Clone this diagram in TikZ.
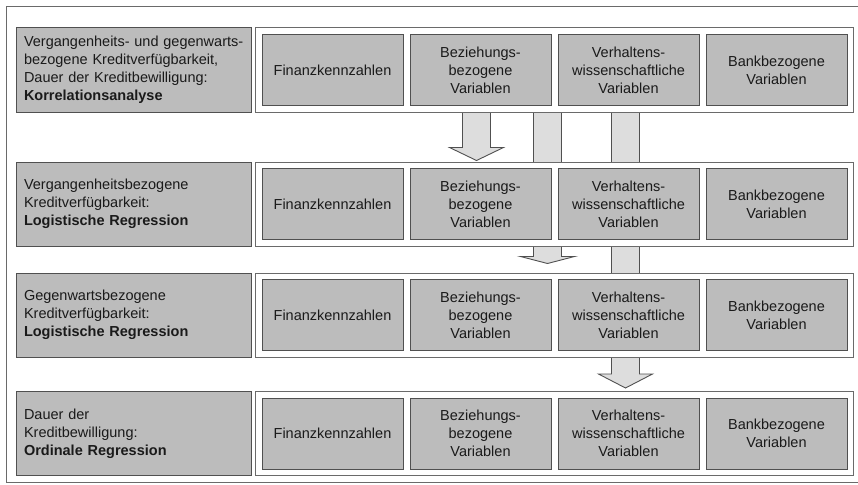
\documentclass[tikz,border=0pt]{standalone}
\usepackage{fontspec}
\setmainfont{Liberation Sans}
\usetikzlibrary{positioning,fit,backgrounds,calc}
\definecolor{boxgray}{HTML}{BCBCBC}
\definecolor{arrowgray}{HTML}{DDDDDD}
\definecolor{edgegray}{HTML}{505050}
\definecolor{framegray}{HTML}{6A6A6A}
\definecolor{textgray}{HTML}{1A1A1A}
\pgfdeclarelayer{arrows}
\pgfsetlayers{arrows,background,main}
% block arrow: column, from node, to node, gap above tip, head length
\newcommand{\blockarrow}[5]{%
  \draw[blk] ($(#1 |- #2.south)+(-14,0)$) -- ($(#1 |- #2.south)+(14,0)$)
    -- ($(#1 |- #3.north)+(14,-#4-#5)$) -- ($(#1 |- #3.north)+(27,-#4-#5)$)
    -- ($(#1 |- #3.north)+(0,-#4)$) -- ($(#1 |- #3.north)+(-27,-#4-#5)$)
    -- ($(#1 |- #3.north)+(-14,-#4-#5)$) -- cycle;}

\begin{document}
\begin{tikzpicture}[x=1pt,y=-1pt,
  node distance=6pt,
  font=\fontsize{14.5}{18}\selectfont,
  lbl/.style={draw=edgegray,fill=boxgray,text=textgray,align=left,
    text width=219pt,inner xsep=8pt,minimum height=84pt,line width=1pt},
  var/.style={draw=edgegray,fill=boxgray,text=textgray,align=center,
    minimum width=141pt,minimum height=71pt,inner sep=2pt,line width=1pt},
  grp/.style={draw=framegray,fill=white,inner sep=6pt,line width=1pt},
  blk/.style={draw=edgegray,fill=arrowgray,line width=.9pt},
  frame/.style={draw=framegray,line width=1pt}
]
\useasboundingbox (0,0) rectangle (858,484);
\draw[frame] (858,7) -- (6,7) -- (6,482) -- (858,482);

\node[lbl] (lab1) at (133.5,70) {\mbox{Vergangenheits- und gegenwarts-}\\bezogene Kreditverfügbarkeit,\\Dauer der Kreditbewilligung:\\\textbf{Korrelationsanalyse}};
\node[lbl] (lab2) at (133.5,204) {Vergangenheitsbezogene\\Kreditverfügbarkeit:\\\textbf{Logistische Regression}};
\node[lbl] (lab3) at (133.5,315) {Gegenwartsbezogene\\Kreditverfügbarkeit:\\\textbf{Logistische Regression}};
\node[lbl] (lab4) at (133.5,433.5) {Dauer der\\Kreditbewilligung:\\\textbf{Ordinale Regression}};

\foreach \r in {1,2,3,4}{
  \node[var,right=10pt of lab\r] (fin\r) {Finanzkennzahlen};
  \node[var,right=of fin\r] (bez\r) {Beziehungs-\\bezogene\\Variablen};
  \node[var,right=of bez\r] (ver\r) {Verhaltens-\\wissenschaftliche\\Variablen};
  \node[var,right=of ver\r] (bank\r) {Bankbezogene\\Variablen};
  \begin{pgfonlayer}{background}
    \node[grp,fit=(fin\r)(bank\r)] (grp\r) {};
  \end{pgfonlayer}
}

\coordinate (colA) at (476.5,0);
\coordinate (colB) at (547.5,0);
\coordinate (colC) at (625.5,0);
\begin{pgfonlayer}{arrows}
  \blockarrow{colA}{grp1}{grp2}{1}{13}
  \blockarrow{colB}{grp1}{grp3}{9}{7}
  \blockarrow{colC}{grp1}{grp4}{3}{14}
\end{pgfonlayer}
\end{tikzpicture}
\end{document}
